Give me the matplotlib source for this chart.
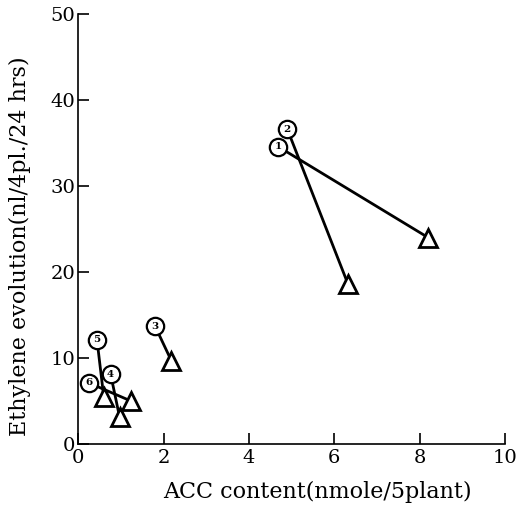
import numpy as np
import matplotlib.pyplot as plt

plt.rcParams['font.family'] = ['DejaVu Serif', 'Liberation Serif']

## sample numbers and readings (ACC content, ethylene)
labels = ['1', '2', '3', '4', '5', '6']
acc_start = [4.68, 4.9, 1.8, 0.76, 0.44, 0.25]
eth_start = [34.6, 36.6, 13.7, 8.1, 12.1, 7.1]
acc_end = [8.2, 6.32, 2.18, 0.97, 0.6, 1.23]
eth_end = [24.0, 18.6, 9.7, 3.1, 5.4, 5.0]

fig = plt.figure(figsize=(5.18, 5.05), dpi=100)
ax = fig.add_axes([0.151, 0.121, 0.824, 0.851])

## connecting lines first, markers on top
for i in range(len(labels)):
    ax.plot([acc_start[i], acc_end[i]], [eth_start[i], eth_end[i]],
            color='black', lw=2, zorder=2)

ax.plot(acc_end, eth_end, linestyle='none', marker='^', ms=13,
        mfc='white', mec='black', mew=2, zorder=3)
ax.plot(acc_start, eth_start, linestyle='none', marker='o', ms=12.5,
        mfc='white', mec='black', mew=1.6, zorder=4)
for i, lab in enumerate(labels):
    ax.text(acc_start[i], eth_start[i], lab, ha='center', va='center',
            fontsize=7.5, fontweight='bold', zorder=5)

ax.set_xlim(0, 10)
ax.set_ylim(0, 50)
ax.set_xticks(np.arange(0, 11, 2))
ax.set_yticks(np.arange(0, 51, 10))
ax.tick_params(direction='in', length=8, width=1.2, labelsize=14)
ax.tick_params(axis='y', pad=2)
ax.spines['top'].set_visible(False)
ax.spines['right'].set_visible(False)
ax.spines['left'].set_linewidth(1.2)
ax.spines['bottom'].set_linewidth(1.2)
ax.set_xlabel('ACC content(nmole/5plant)', fontsize=16, labelpad=6)
ax.xaxis.set_label_coords(0.56, -0.085)
ax.set_ylabel('Ethylene evolution(nl/4pl./24 hrs)', fontsize=16)
ax.yaxis.set_label_coords(-0.11, 0.46)

fig.savefig('out.png', dpi=100)
